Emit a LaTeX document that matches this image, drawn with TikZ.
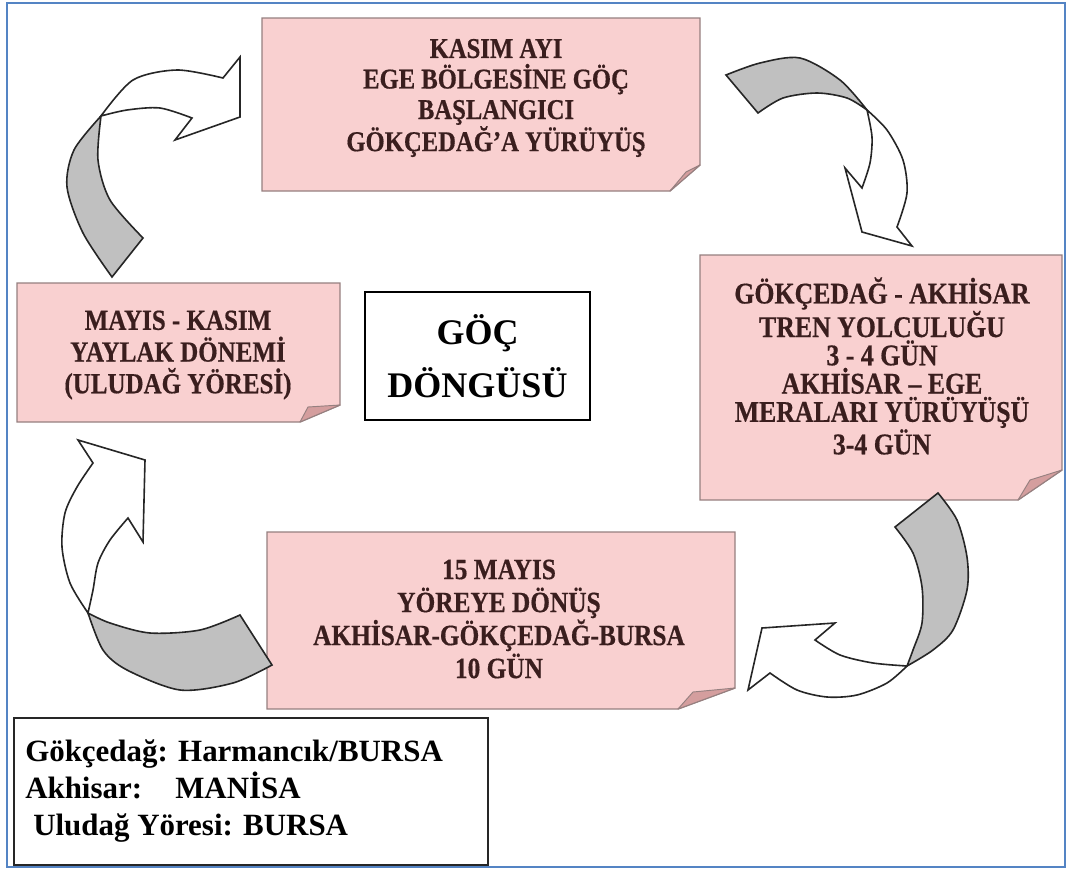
\documentclass[tikz,border=0pt]{standalone}
\usepackage{fontspec}
\setmainfont{Liberation Serif}
\newfontfamily\notefont[FakeStretch=0.86,BoldFeatures={FakeBold=0.5}]{Liberation Serif}
\definecolor{pinkfill}{RGB}{249,208,208}
\definecolor{pinkedge}{RGB}{150,128,128}
\definecolor{foldfill}{RGB}{212,158,158}
\definecolor{txtbrown}{RGB}{58,30,30}
\definecolor{greyband}{RGB}{192,192,192}
\definecolor{frameblue}{RGB}{84,132,196}
\begin{document}
\begin{tikzpicture}[x=0.75pt,y=-0.75pt,
  notebox/.style={fill=pinkfill,draw=pinkedge,line width=1.1pt,line join=miter},
  foldflap/.style={fill=foldfill,draw=pinkedge,line width=0.7pt,line join=round},
  boxtext/.style={text=txtbrown,align=center,inner sep=0pt},
  backband/.style={fill=greyband,draw=black!85,line width=1.2pt,line join=miter},
  frontband/.style={fill=white,draw=black!85,line width=1.2pt,line join=miter},
  legendtext/.style={anchor=base west,inner sep=0pt,font=\bfseries\fontsize{23.2}{27}\selectfont}]
\useasboundingbox (0,0) rectangle (1072,871);
\fill[white] (0,0) rectangle (1072,871);
\draw[frameblue,line width=1.9pt] (7,3) rectangle (1065,867);

% ---------- pink note boxes ----------
% top
\path[notebox] (262,18) -- (700,18) -- (700,165) -- (670,191) -- (262,191) -- cycle;
\path[foldflap] (670,191) -- (686,172) -- (700,165) -- cycle;
\node[boxtext,font=\notefont\bfseries\fontsize{21.5}{22.9}\selectfont] (top) at (496,98)
  {KASIM AYI\\EGE BÖLGESİNE GÖÇ\\BAŞLANGICI\\GÖKÇEDAĞ’A YÜRÜYÜŞ};
% right
\path[notebox] (700,255) -- (1062,255) -- (1062,470) -- (1018,500) -- (700,500) -- cycle;
\path[foldflap] (1018,500) -- (1030,480) -- (1062,470) -- cycle;
\node[boxtext,font=\notefont\bfseries\fontsize{22.5}{21.2}\selectfont] (right) at (882,366)
  {GÖKÇEDAĞ - AKHİSAR\\TREN YOLCULUĞU\\3 - 4 GÜN\\AKHİSAR – EGE\\MERALARI YÜRÜYÜŞÜ\\3-4 GÜN};
% bottom
\path[notebox] (267,532) -- (735,532) -- (735,688) -- (678,709) -- (267,709) -- cycle;
\path[foldflap] (678,709) -- (693,692) -- (735,688) -- cycle;
\node[boxtext,font=\notefont\bfseries\fontsize{22.1}{24.75}\selectfont] (bottom) at (499,619)
  {15 MAYIS\\YÖREYE DÖNÜŞ\\AKHİSAR-GÖKÇEDAĞ-BURSA\\10 GÜN};
% left
\path[notebox] (17,283) -- (340,283) -- (340,405) -- (300,422) -- (17,422) -- cycle;
\path[foldflap] (300,422) -- (308,407) -- (340,405) -- cycle;
\node[boxtext,font=\notefont\bfseries\fontsize{21.8}{23.8}\selectfont] (left) at (178,355)
  {MAYIS - KASIM\\YAYLAK DÖNEMİ\\(ULUDAĞ YÖRESİ)};

% ---------- centre title ----------
\node[draw=black,line width=1.2pt,fill=white,minimum width=168.75pt,minimum height=96pt,
  align=center,inner sep=0pt,font=\bfseries\fontsize{27}{39.75}\selectfont] (title) at (477.5,356)
  {GÖÇ\\DÖNGÜSÜ};

% ---------- curved arrows ----------
% arrow 1: left box -> top box
\path[backband] (112,277) -- plot[smooth] coordinates {(112,277) (83,233) (67,187) (74,150) (101,116)}
  -- plot[smooth] coordinates {(101,116) (98,160) (110,200) (143,238)} -- cycle;
\path[frontband] (101,116) -- plot[smooth] coordinates {(101,116) (133,80) (177,70) (223,78)}
  -- (240,57) -- (240,117) -- (175,140) -- (192,118)
  -- plot[smooth] coordinates {(192,118) (160,108) (127,110) (101,116)} -- cycle;
% arrow 2: top box -> right box
\path[backband] (726,75) -- plot[smooth] coordinates {(726,75) (760,63) (800,58) (840,80) (867,110)}
  -- plot[smooth] coordinates {(867,110) (847,98) (817,93) (783,98) (758,113)} -- cycle;
\path[frontband] (867,110) -- plot[smooth] coordinates {(867,110) (887,130) (903,160) (907,193) (897,227)}
  -- (912,246) -- (862,232) -- (845,168) -- (862,188)
  -- plot[smooth] coordinates {(862,188) (870,163) (872,137) (867,110)} -- cycle;
% arrow 3: right box -> bottom box
\path[backband] (895,527) -- (938,493)
  -- plot[smooth] coordinates {(938,493) (957,520) (967,557) (967,590) (953,630) (933,650) (907,666)}
  -- plot[smooth] coordinates {(907,666) (913,650) (922,623) (922,587) (913,553) (895,527)} -- cycle;
\path[frontband] (907,666) -- plot[smooth] coordinates {(907,666) (887,683) (857,695) (827,697) (797,690) (770,673)}
  -- (748,690) -- (762,628) -- (835,623) -- (815,640)
  -- plot[smooth] coordinates {(815,640) (840,655) (873,663) (907,666)} -- cycle;
% arrow 4: bottom box -> left box
\path[backband] (240,615) -- (272,665)
  -- plot[smooth] coordinates {(272,665) (233,683) (180,690) (127,670) (103,650) (88,613)}
  -- plot[smooth] coordinates {(88,613) (110,623) (150,633) (200,630) (240,615)} -- cycle;
\path[frontband] (88,613) -- plot[smooth] coordinates {(88,613) (70,583) (62,547) (65,513) (77,487) (93,463)}
  -- (78,440) -- (145,460) -- (143,542) -- (128,518)
  -- plot[smooth] coordinates {(128,518) (110,540) (98,563) (93,590) (88,613)} -- cycle;

% ---------- legend ----------
\draw[black!85,line width=1.5pt] (14,718) rectangle (488,865);
\node[legendtext] (l1) at (25,761) {Gökçedağ: Harmancık/BURSA};
\node[legendtext] (l2a) at (25,798) {Akhisar:};
\node[legendtext] (l2b) at (175,798) {MANİSA};
\node[legendtext] (l3) at (33,835) {Uludağ Yöresi: BURSA};
\end{tikzpicture}
\end{document}
